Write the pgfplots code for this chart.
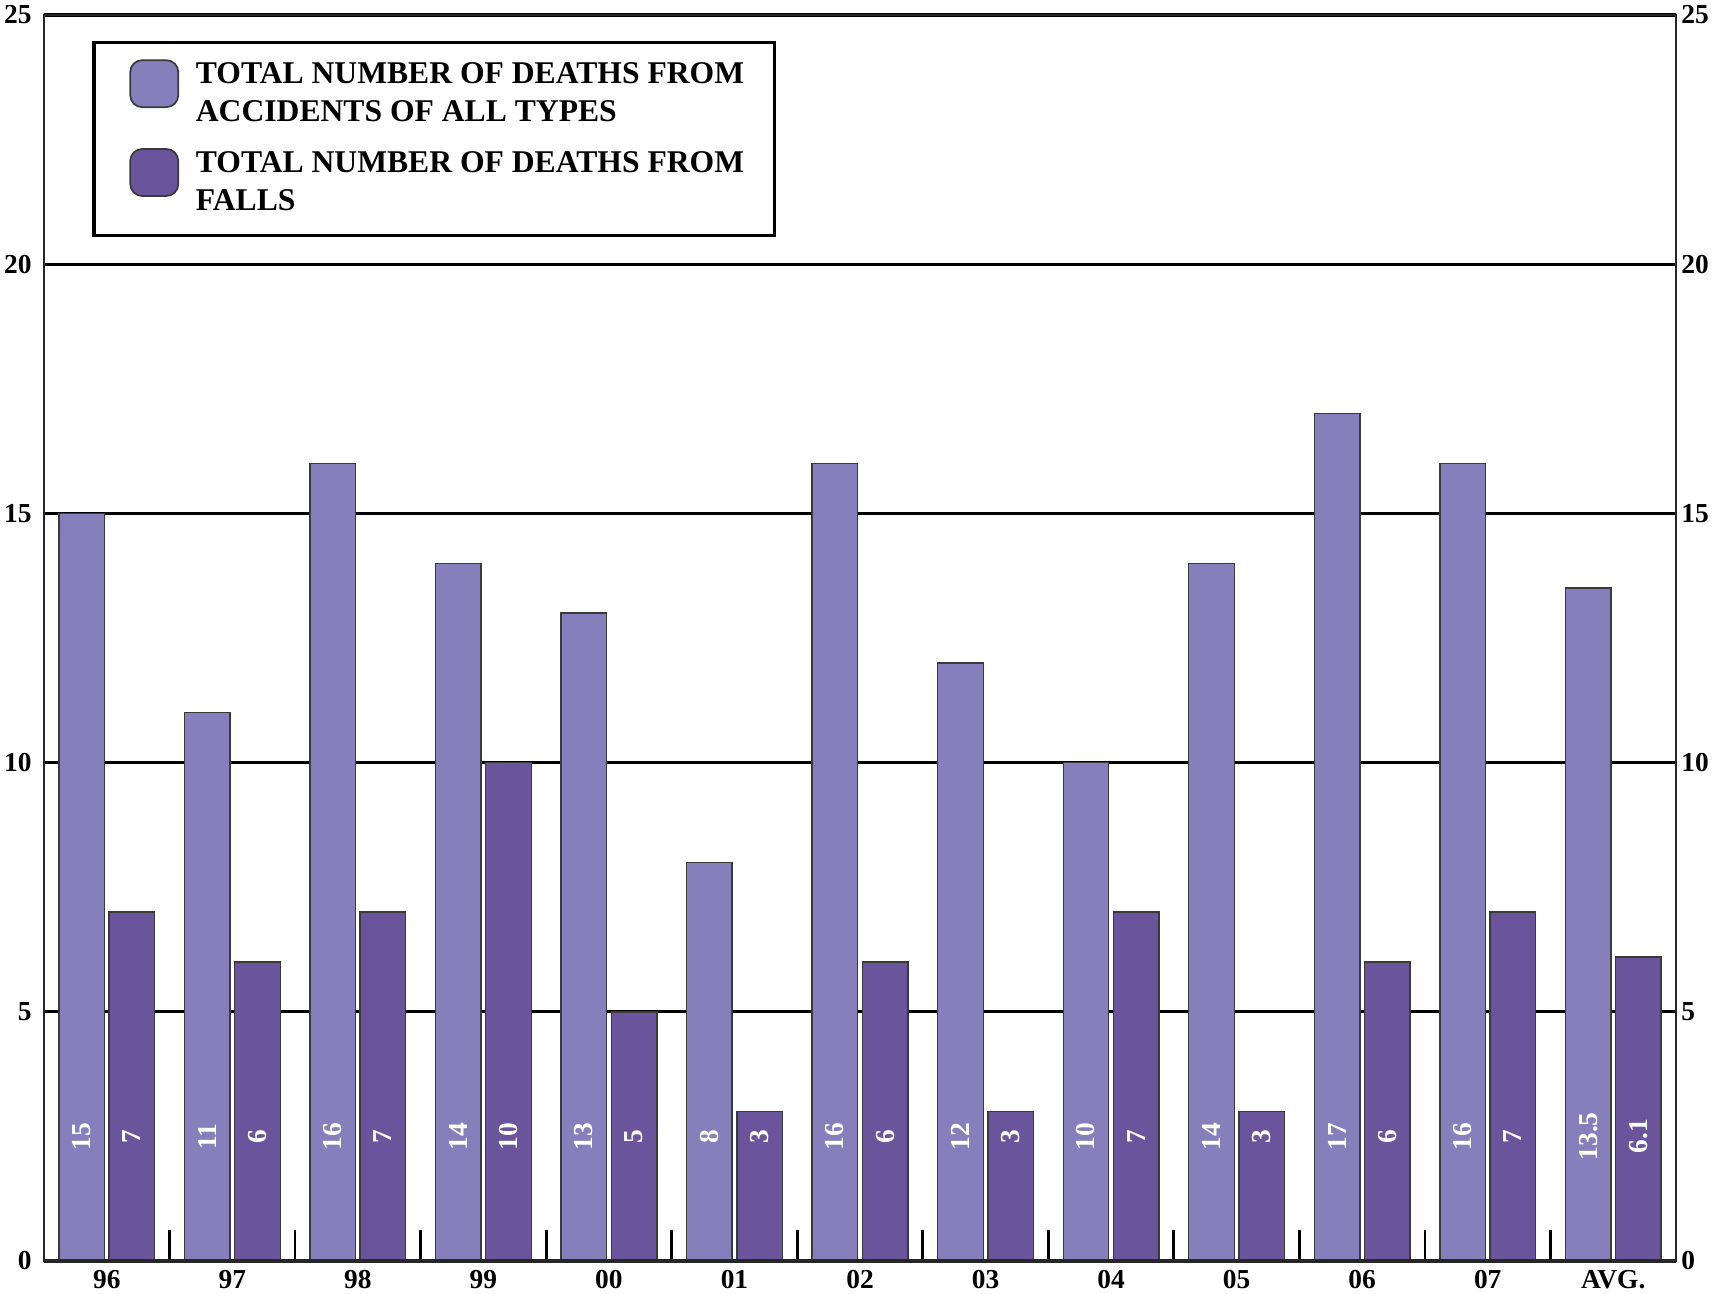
\documentclass[border=0pt]{standalone}
\usepackage{fontspec}
\setmainfont{Liberation Serif}
\usepackage{pgfplots}
\pgfplotsset{compat=1.18}
\definecolor{lightbar}{HTML}{877FBB}
\definecolor{darkbar}{HTML}{6A549B}
\definecolor{edge}{HTML}{3A3A3A}
\begin{document}
\begin{tikzpicture}
\begin{axis}[name=ax, scale only axis, width=163.2mm, height=124.6mm,
  xmin=-0.5, xmax=12.5, ymin=0, ymax=25,
  xtick={0,...,12},
  xticklabels={96,97,98,99,00,01,02,03,04,05,06,07,AVG.},
  ytick={0,5,...,25},
  major tick length=0pt,
  xtick pos=bottom, ytick pos=left,
  extra x ticks={0.5,1.5,...,11.5}, extra x tick labels={},
  extra x tick style={major tick length=3.1mm, tick align=inside, tick style={black, line width=0.8pt}},
  ymajorgrids, grid style={black, line width=0.9pt},
  axis line style={line width=0.5pt, black!85},
  ticklabel style={font=\bfseries\fontsize{7.8}{9}\selectfont},
  xticklabel style={yshift=0.3mm},
  /pgf/number format/assume math mode=true,
  legend cell align=left,
  legend image code/.code={\path (0mm,-3.45mm) (7mm,3.45mm);
    \draw[#1, rounded corners=1.2mm, line width=0.5pt] (1.21mm,-1.25mm) rectangle (6.01mm,3.45mm);},
  legend style={at={(0.0297,0.979)}, anchor=north west, draw=black, line width=0.9pt,
    font=\bfseries\fontsize{9}{10.8}\selectfont, cells={align=left},
    inner xsep=2.34mm, inner ysep=1.28mm, row sep=1.06mm},
]
\addplot[ybar, bar width=0.363, bar shift=-0.2, fill=lightbar, draw=edge, line width=0.4pt]
  coordinates {(0,15) (1,11) (2,16) (3,14) (4,13) (5,8) (6,16) (7,12) (8,10) (9,14) (10,17) (11,16) (12,13.5)};
\addlegendentry{TOTAL NUMBER OF DEATHS FROM\\ACCIDENTS OF ALL TYPES}
\addplot[ybar, bar width=0.363, bar shift=0.2, fill=darkbar, draw=edge, line width=0.4pt]
  coordinates {(0,7) (1,6) (2,7) (3,10) (4,5) (5,3) (6,6) (7,3) (8,7) (9,3) (10,6) (11,7) (12,6.1)};
\addlegendentry{TOTAL NUMBER OF DEATHS FROM\\FALLS}
\addplot[forget plot, draw=none, mark=none, nodes near coords, point meta=explicit symbolic,
  nodes near coords align=center,
  every node near coord/.append style={rotate=90, anchor=center, text=white, font=\bfseries\fontsize{7.8}{8}\selectfont}]
  coordinates {(-0.2,2.5)[15] (0.8,2.5)[11] (1.8,2.5)[16] (2.8,2.5)[14] (3.8,2.5)[13] (4.8,2.5)[8] (5.8,2.5)[16] (6.8,2.5)[12] (7.8,2.5)[10] (8.8,2.5)[14] (9.8,2.5)[17] (10.8,2.5)[16] (11.8,2.5)[13.5]};
\addplot[forget plot, draw=none, mark=none, nodes near coords, point meta=explicit symbolic,
  nodes near coords align=center,
  every node near coord/.append style={rotate=90, anchor=center, text=white, font=\bfseries\fontsize{7.8}{8}\selectfont}]
  coordinates {(0.2,2.5)[7] (1.2,2.5)[6] (2.2,2.5)[7] (3.2,2.5)[10] (4.2,2.5)[5] (5.2,2.5)[3] (6.2,2.5)[6] (7.2,2.5)[3] (8.2,2.5)[7] (9.2,2.5)[3] (10.2,2.5)[6] (11.2,2.5)[7] (12.2,2.5)[6.1]};
\end{axis}
\begin{axis}[scale only axis, width=163.2mm, height=124.6mm,
  xmin=-0.5, xmax=12.5, ymin=0, ymax=25,
  hide x axis, axis y line*=right, y axis line style={draw=none},
  ytick={0,5,...,25}, major tick length=0pt,
  ticklabel style={font=\bfseries\fontsize{7.8}{9}\selectfont},
  yticklabel style={xshift=-0.7mm},
  /pgf/number format/assume math mode=true]
\addplot[draw=none, mark=none] coordinates {(0,0) (1,1)};
\end{axis}
\draw[line width=1.1pt, black!85] (ax.south west) -- (ax.south east);
\pgfresetboundingbox
\path ([xshift=-4.4mm,yshift=-3.2mm]ax.south west) rectangle ([xshift=5.1mm,yshift=1.5mm]ax.north east);
\end{tikzpicture}
\end{document}
